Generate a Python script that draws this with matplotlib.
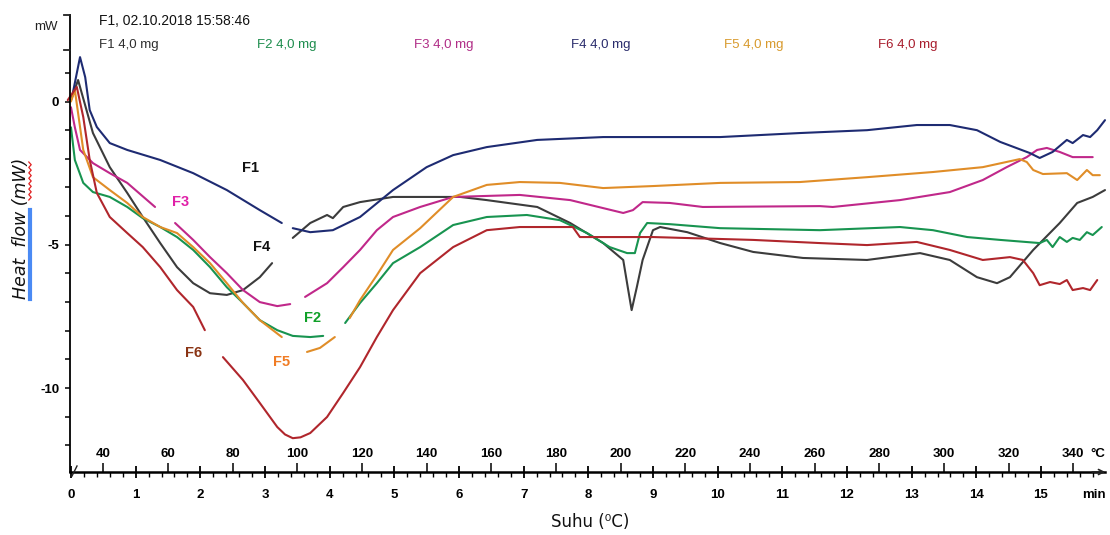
import numpy as np
import matplotlib
matplotlib.use("Agg")
import matplotlib.pyplot as plt
from matplotlib.lines import Line2D
from matplotlib.ticker import FixedLocator

G = np.nan  # break in a trace where a curve label sits

# DSC traces: time (min) and heat flow (mW); heating 20 K/min from 30 °C
f1_t = [0.0, 0.11, 0.34, 0.60, 0.87, 1.11, 1.38, 1.64, 1.89, 2.15, 2.41, 2.66, 2.92, 3.11, G,
        3.43, 3.70, 3.96, 4.05, 4.21, 4.47, 4.98, 6.02, 6.43, 7.21, 7.72, 8.23, 8.54, 8.61, 8.67,
        8.75, 8.84, 9.00, 9.11, 9.53, 10.04, 10.55, 11.32, 12.31, 13.13, 13.59, 14.01, 14.32,
        14.52, 14.88, 15.29, 15.56, 15.80, 15.99]
f1_y = [0.05, 0.75, -1.10, -2.29, -3.19, -4.03, -4.94, -5.78, -6.34, -6.69, -6.75, -6.58, -6.13, -5.64, G,
        -4.76, -4.24, -3.96, -4.07, -3.68, -3.51, -3.33, -3.33, -3.44, -3.68, -4.24, -4.94, -5.53, -6.48, -7.28,
        -6.48, -5.53, -4.49, -4.38, -4.56, -4.94, -5.25, -5.46, -5.53, -5.29, -5.53, -6.13, -6.34,
        -6.13, -5.18, -4.24, -3.54, -3.33, -3.09]

f2_t = [0.0, 0.06, 0.19, 0.34, 0.60, 0.87, 1.11, 1.38, 1.64, 1.89, 2.15, 2.41, 2.66, 2.92, 3.19, 3.43,
        3.70, 3.90, G, 4.24, 4.47, 4.73, 4.98, 5.40, 5.91, 6.43, 7.05, 7.56, 7.98, 8.33, 8.60, 8.72,
        8.80, 8.91, 9.26, 10.04, 11.58, 12.82, 13.33, 13.86, 14.37, 14.98, 15.09, 15.18, 15.29,
        15.40, 15.49, 15.60, 15.71, 15.80, 15.94]
f2_y = [-0.90, -2.04, -2.84, -3.16, -3.33, -3.68, -4.07, -4.38, -4.73, -5.18, -5.78, -6.48, -7.03, -7.63, -7.98, -8.18,
        -8.22, -8.18, G, -7.73, -7.03, -6.34, -5.64, -5.08, -4.31, -4.03, -3.96, -4.14, -4.59, -5.08, -5.29, -5.29,
        -4.59, -4.24, -4.28, -4.42, -4.49, -4.38, -4.49, -4.73, -4.83, -4.94, -4.83, -5.08, -4.73,
        -4.90, -4.76, -4.83, -4.56, -4.66, -4.38]

f3_t = [0.0, 0.06, 0.14, 0.34, 0.60, 0.87, 1.30, G, 1.61, 1.89, 2.15, 2.41, 2.66, 2.92, 3.19, 3.39, G,
        3.62, 3.96, 4.21, 4.47, 4.73, 4.98, 5.40, 5.91, 6.94, 7.72, 8.23, 8.54, 8.69, 8.84, 9.26, 9.77,
        11.58, 11.78, 12.82, 13.59, 14.10, 14.47, 14.78, 14.94, 15.09, 15.29, 15.49, 15.80]
f3_y = [-0.20, -0.90, -1.69, -2.15, -2.50, -2.84, -3.68, G, -4.24, -4.83, -5.43, -5.99, -6.58, -7.00, -7.14, -7.07, G,
        -6.82, -6.34, -5.78, -5.18, -4.49, -4.03, -3.68, -3.33, -3.26, -3.44, -3.72, -3.89, -3.79, -3.51, -3.54, -3.68,
        -3.65, -3.68, -3.44, -3.16, -2.74, -2.29, -1.94, -1.69, -1.62, -1.76, -1.94, -1.94]

f4_t = [0.02, 0.14, 0.22, 0.29, 0.40, 0.60, 0.87, 1.38, 1.89, 2.41, 2.92, 3.26, G, 3.43, 3.70, 4.05,
        4.47, 4.98, 5.50, 5.91, 6.43, 7.21, 8.23, 10.04, 11.27, 12.31, 13.08, 13.59, 14.01, 14.37,
        14.83, 14.98, 15.18, 15.40, 15.49, 15.65, 15.76, 15.87, 15.99]
f4_y = [0.20, 1.55, 0.85, -0.30, -0.89, -1.45, -1.69, -2.04, -2.50, -3.09, -3.79, -4.24, G, -4.42, -4.56, -4.49,
        -4.03, -3.09, -2.29, -1.87, -1.59, -1.34, -1.24, -1.24, -1.10, -1.00, -0.82, -0.82, -1.00, -1.41,
        -1.80, -1.97, -1.76, -1.34, -1.45, -1.17, -1.24, -1.00, -0.65]

f5_t = [0.0, 0.06, 0.19, 0.34, 0.60, 0.87, 1.11, 1.38, 1.64, 1.89, 2.15, 2.41, 2.66, 2.92, 3.26, G,
        3.65, 3.85, 4.08, G, 4.31, 4.47, 4.73, 4.98, 5.40, 5.91, 6.43, 6.94, 7.56, 8.23, 9.00, 10.04,
        11.27, 12.31, 13.33, 14.10, 14.67, 14.78, 14.88, 15.03, 15.40, 15.56, 15.71, 15.80, 15.91]
f5_y = [0.00, 0.40, -1.69, -2.64, -3.09, -3.54, -4.03, -4.38, -4.59, -5.08, -5.64, -6.34, -7.03, -7.63, -8.22, G,
        -8.74, -8.60, -8.22, G, -7.56, -6.93, -6.06, -5.18, -4.42, -3.33, -2.91, -2.81, -2.84, -3.02, -2.95, -2.84,
        -2.81, -2.64, -2.46, -2.29, -2.01, -2.11, -2.39, -2.53, -2.50, -2.74, -2.39, -2.57, -2.57]

f6_t = [-0.05, 0.09, 0.19, 0.29, 0.40, 0.60, 0.87, 1.11, 1.38, 1.64, 1.89, 2.07, G, 2.35, 2.66, 2.92,
        3.19, 3.31, 3.43, 3.55, 3.70, 3.96, 4.21, 4.47, 4.73, 4.98, 5.40, 5.91, 6.43, 6.94, 7.76, 7.87,
        9.00, 10.55, 11.58, 12.31, 13.08, 13.59, 14.10, 14.52, 14.72, 14.88, 14.98, 15.14, 15.29,
        15.40, 15.49, 15.65, 15.76, 15.87]
f6_y = [0.05, 0.51, -0.54, -2.04, -3.19, -4.03, -4.59, -5.08, -5.78, -6.58, -7.17, -7.98, G, -8.92, -9.72, -10.52,
        -11.36, -11.62, -11.75, -11.72, -11.57, -11.01, -10.17, -9.27, -8.22, -7.28, -5.99, -5.08, -4.49, -4.38, -4.38, -4.73,
        -4.73, -4.83, -4.94, -5.01, -4.90, -5.18, -5.53, -5.43, -5.53, -5.99, -6.41, -6.30, -6.37,
        -6.23, -6.58, -6.51, -6.58, -6.23]

samples = ["F1", "F2", "F3", "F4", "F5", "F6"]
mass_label = "4,0 mg"
curve_colors = ["#3c3c3c", "#189450", "#c0288a", "#1e2b72", "#e08d28", "#b0262c"]
legend_colors = ["#2e2e2e", "#1c8c4c", "#b02c86", "#2a2c6c", "#d89a2c", "#a81c2c"]

minutes = list(range(0, 16))
temps_c = list(range(40, 341, 20))
mw_labelled = [-10, -5, 0]
mw_minor = list(range(-12, 2))

W, H = 1110, 535
def fx(px):
    return px / W
def fy(py):
    return 1 - py / H

fig = plt.figure(figsize=(W / 100, H / 100), dpi=100)
fig.patch.set_facecolor("white")

ax = fig.add_axes([fx(70), fy(472), (1105 - 70) / W, (472 - 15) / H])
ax.set_xlim(-0.015, 15.99)
ax.set_ylim(-12.93, 3.02)
for s in ("top", "right"):
    ax.spines[s].set_visible(False)
ax.spines["left"].set_linewidth(1.3)
ax.spines["bottom"].set_linewidth(1.8)

traces = [(f1_t, f1_y), (f2_t, f2_y), (f3_t, f3_y), (f4_t, f4_y), (f5_t, f5_y), (f6_t, f6_y)]
for (t, y), c in zip(traces, curve_colors):
    ax.plot(t, y, color=c, lw=1.5, solid_joinstyle="round", solid_capstyle="round", clip_on=False)

tick_font = dict(family="Liberation Sans", weight="bold", size=9.5)

# heat-flow axis
ax.yaxis.set_major_locator(FixedLocator(mw_labelled))
ax.yaxis.set_minor_locator(FixedLocator(mw_minor))
ax.set_yticklabels([str(v) for v in mw_labelled], **tick_font)
ax.tick_params(axis="y", which="both", direction="out", length=3.8, width=1.1, pad=4)

# time axis (min)
ax.xaxis.set_major_locator(FixedLocator(minutes))
ax.xaxis.set_minor_locator(FixedLocator(np.arange(0, 15.9, 0.2)))
ax.set_xticklabels([str(m) for m in minutes], **tick_font)
ax.tick_params(axis="x", which="major", direction="inout", length=9, width=1.3, pad=8)
ax.tick_params(axis="x", which="minor", direction="out", length=3.6, width=1.0)

# temperature scale drawn on the same baseline, labels above it
sec = ax.secondary_xaxis("bottom", functions=(lambda t: 30 + 20 * np.asarray(t),
                                              lambda T: (np.asarray(T) - 30) / 20))
sec.set_xticks(temps_c)
sec.set_xticklabels([str(T) for T in temps_c], **tick_font)
sec.tick_params(direction="in", length=6.5, width=1.1, pad=-17)
sec.spines["bottom"].set_visible(False)

fig.text(fx(1098), fy(454), "°C", ha="center", va="center", **tick_font)
fig.text(fx(1094), fy(495), "min", ha="center", va="center", **tick_font)

# axis end arrow and origin mark
ax.annotate("", xy=(1.003, 0), xytext=(0.985, 0), xycoords="axes fraction",
            arrowprops=dict(arrowstyle="->", lw=1.2, color="#222222", mutation_scale=9))
fig.add_artist(Line2D([fx(72), fx(77)], [fy(476), fy(466)], color="#222222", lw=1.0))

# bracket at the top of the heat-flow axis
fig.add_artist(Line2D([fx(64), fx(70)], [fy(15), fy(15)], color="#222222", lw=1.3))
fig.add_artist(Line2D([fx(64), fx(70)], [fy(50), fy(50)], color="#222222", lw=1.3))

# header
fig.text(fx(34), fy(27), "mW", ha="left", va="center", family="Liberation Sans", size=9.5, color="#222222")
fig.text(fx(99), fy(21), "F1, 02.10.2018 15:58:46", ha="left", va="center",
         family="Liberation Sans", size=10, color="#111111")
legend_x = [99, 257, 414, 571, 724, 878]
for name, col, px in zip(samples, legend_colors, legend_x):
    fig.text(fx(px), fy(45), f"{name} {mass_label}", ha="left", va="center",
             family="Liberation Sans", size=9.5, color=col)

# curve labels
label_font = dict(family="Liberation Sans", weight="bold", size=10.5, ha="center", va="center")
ax.text(2.77, -2.32, "F1", color="#111111", **label_font)
ax.text(1.69, -3.51, "F3", color="#e020a8", **label_font)
ax.text(2.95, -5.08, "F4", color="#111111", **label_font)
ax.text(3.74, -7.56, "F2", color="#10a028", **label_font)
ax.text(3.25, -9.09, "F5", color="#f07c24", **label_font)
ax.text(1.89, -8.78, "F6", color="#8a3414", **label_font)

# axis titles
fig.text(fx(21), fy(228), "Heat  flow (mW)", rotation=90, style="italic", size=12.5,
         ha="center", va="center", family="DejaVu Sans", color="#111111")
fig.add_artist(Line2D([fx(30), fx(30)], [fy(210), fy(299)], color="#4a8af4", lw=3.0))
wy = np.linspace(162, 200, 15)
wx = 30 + 1.2 * np.where(np.arange(15) % 2 == 0, -1, 1)
fig.add_artist(Line2D(fx(wx), fy(wy), color="#e02020", lw=0.9))

fig.text(fx(590), fy(522), "Suhu (⁰C)", ha="center", va="center", size=12,
         family=["DejaVu Sans"], color="#111111")

fig.savefig("out.png", dpi=100, facecolor="white")
